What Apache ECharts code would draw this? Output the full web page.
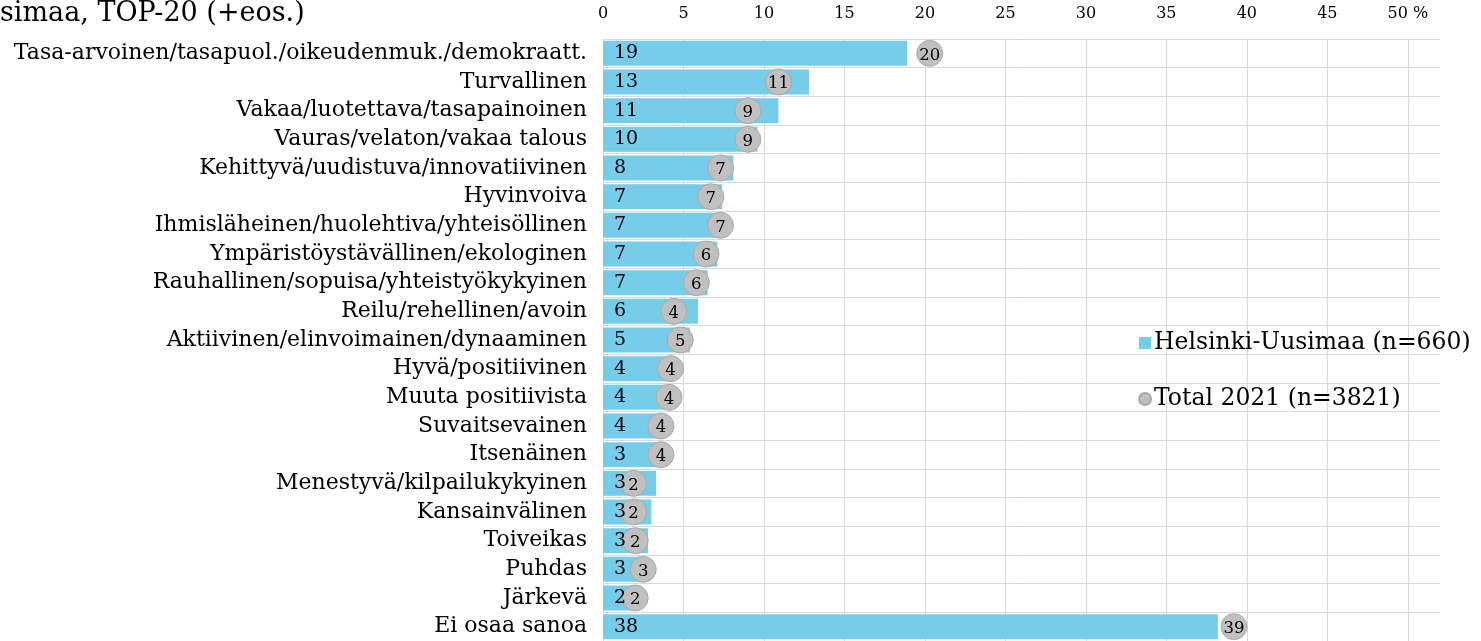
<!DOCTYPE html>
<html><head><meta charset="utf-8">
<script src="https://cdn.jsdelivr.net/npm/echarts@6/dist/echarts.min.js"></script>
<style>html,body{margin:0;padding:0;background:#fff}#c{width:1481px;height:641px}</style>
</head><body><div id="c"></div>
<script>
const titleText = 'simaa, TOP-20 (+eos.)';
const categories = [
  'Tasa-arvoinen/tasapuol./oikeudenmuk./demokraatt.',
  'Turvallinen',
  'Vakaa/luotettava/tasapainoinen',
  'Vauras/velaton/vakaa talous',
  'Kehittyvä/uudistuva/innovatiivinen',
  'Hyvinvoiva',
  'Ihmisläheinen/huolehtiva/yhteisöllinen',
  'Ympäristöystävällinen/ekologinen',
  'Rauhallinen/sopuisa/yhteistyökykyinen',
  'Reilu/rehellinen/avoin',
  'Aktiivinen/elinvoimainen/dynaaminen',
  'Hyvä/positiivinen',
  'Muuta positiivista',
  'Suvaitsevainen',
  'Itsenäinen',
  'Menestyvä/kilpailukykyinen',
  'Kansainvälinen',
  'Toiveikas',
  'Puhdas',
  'Järkevä',
  'Ei osaa sanoa'
];
const seriesNames = ['Helsinki-Uusimaa (n=660)', 'Total 2021 (n=3821)'];
const helsinkiValues = [18.9, 12.8, 10.9, 9.6, 8.1, 7.4, 7.2, 7.1, 6.5, 5.9, 5.4, 4.4, 4.4, 3.6, 3.3, 3.3, 3.0, 2.8, 2.6, 2.3, 38.2];
const totalValues = [20.3, 10.9, 9.0, 9.0, 7.3, 6.7, 7.3, 6.4, 5.8, 4.4, 4.8, 4.2, 4.1, 3.6, 3.6, 1.9, 1.9, 2.0, 2.5, 2.0, 39.2];
const axisMax = 52;
const axisInterval = 5;

const FONT = 'DejaVu Serif';
const chart = echarts.init(document.getElementById('c'));
chart.setOption({
  animation: false,
  textStyle: { fontFamily: FONT },
  graphic: [{
    type: 'text', left: 0, top: 0,
    style: { text: titleText, font: '27px "DejaVu Serif"', fill: '#000' }
  }],
  legend: {
    orient: 'vertical', left: 1133, top: 326, itemGap: 32,
    itemWidth: 12, itemHeight: 12,
    textStyle: { fontFamily: FONT, fontSize: 23.5, color: '#000', padding: [0, 0, 0, -2] },
    data: [
      { name: seriesNames[0], icon: 'rect' },
      { name: seriesNames[1], icon: 'circle' }
    ]
  },
  grid: { left: 603, right: 41, top: 39, bottom: -4, containLabel: false },
  xAxis: {
    type: 'value', position: 'top', min: 0, max: axisMax, interval: axisInterval,
    axisLine: { show: false }, axisTick: { show: false },
    axisLabel: {
      margin: 17, fontFamily: FONT, fontSize: 16, color: '#000', showMaxLabel: false,
      formatter: v => v === 50 ? '50 %' : String(v)
    },
    splitLine: { show: true, showMaxLine: false, lineStyle: { color: '#d9d9d9', width: 1 } }
  },
  yAxis: {
    type: 'category', data: categories, inverse: true,
    axisLine: { show: false }, axisTick: { show: false },
    axisLabel: { margin: 16, fontFamily: FONT, fontSize: 22, color: '#000' },
    splitLine: { show: true, interval: 0, lineStyle: { color: '#d9d9d9', width: 1 } }
  },
  series: [
    {
      name: seriesNames[0], type: 'bar', data: helsinkiValues, barWidth: 25,
      itemStyle: { color: '#75cdea' },
      z: 2
    },
    {
      name: seriesNames[1], type: 'scatter', data: totalValues, symbol: 'circle', symbolSize: 26,
      itemStyle: { color: '#c0c0c0', borderColor: '#a9a9a9', borderWidth: 1, opacity: 1 },
      label: {
        show: true, position: 'inside', offset: [0, 2],
        fontFamily: FONT, fontSize: 16.5, color: '#000',
        formatter: p => Math.round(p.value)
      },
      z: 3
    },
    {
      name: 'labels', type: 'bar', data: helsinkiValues, barWidth: 25, barGap: '-100%',
      itemStyle: { color: 'rgba(0,0,0,0)' }, silent: true, tooltip: { show: false },
      label: {
        show: true, position: 'insideLeft', distance: 11,
        fontFamily: FONT, fontSize: 19, color: '#000',
        formatter: p => Math.round(p.value)
      },
      z: 4
    }
  ]
});
</script></body></html>
